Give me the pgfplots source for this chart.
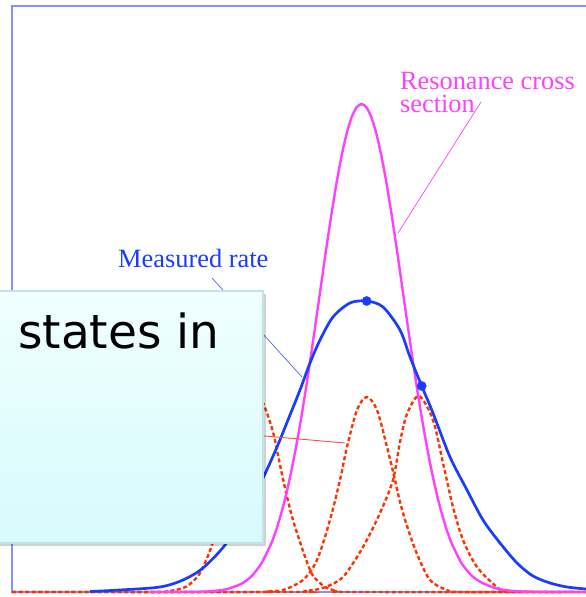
\documentclass[border=0pt]{standalone}
\usepackage{pgfplots}
\pgfplotsset{compat=1.18}
\usepackage{fontspec}
\setmainfont{Liberation Serif}
\newfontfamily\dejavu{DejaVu Sans}
\usetikzlibrary{calc}
\definecolor{cblue}{RGB}{25,60,255}
\definecolor{cmag}{RGB}{255,64,255}
\definecolor{cred}{RGB}{255,50,0}
\definecolor{cframe}{RGB}{130,145,255}
\definecolor{clead}{RGB}{80,100,255}
\definecolor{credlead}{RGB}{255,80,60}
\definecolor{boxtop}{RGB}{240,255,255}
\definecolor{boxbot}{RGB}{214,250,252}
\definecolor{boxedge}{RGB}{190,228,230}
\begin{document}
\begin{tikzpicture}
\begin{axis}[
  at={(0,0)}, anchor=south west,
  scale only axis, width=586pt, height=597pt,
  xmin=0, xmax=586, ymin=-5, ymax=592,
  hide axis, clip=false,
]
% frame
\draw[cframe, line width=1.3pt] (axis cs:600,0) -- (axis cs:12,0) -- (axis cs:12,586) -- (axis cs:600,586);
% red dashed component peaks
\addplot[cred, line width=2.4pt, dash pattern=on 4pt off 2.6pt, smooth, tension=0.5] coordinates {
 (12,0) (150,0) (167,0.5) (183,4) (190,8) (200,19) (212,47) (225,95) (240,161) (250,190) (256,195) (263,189) (273,160) (283,113) (293,72) (310,22) (320,9) (327,4) (337,1) (350,0) (586,0)};
\addplot[cred, line width=2.4pt, dash pattern=on 4pt off 2.6pt, smooth, tension=0.5] coordinates {
 (12,0) (250,0) (267,0.5) (283,2) (303,12) (317,32) (330,72) (340,112) (347,145) (357,182) (366.7,195) (377,182) (387,145) (395,112) (400,90) (407,66) (417,38) (430,12) (447,2) (463,0) (586,0)};
\addplot[cred, line width=2.4pt, dash pattern=on 4pt off 2.6pt, smooth, tension=0.5] coordinates {
 (12,0) (290,0) (305,1) (323,4) (343,15) (363,45) (380,79) (393,112) (400,150) (407,178) (419,196) (433,172) (443,129) (453,85) (463,52) (477,25) (497,5) (510,0.5) (586,0)};
% resonance cross section
\addplot[cmag, line width=2.4pt, smooth, tension=0.4] coordinates {
 (150,0) (195,0.2) (211.5,0.8) (226.5,2.8) (241.5,8.2) (251.5,15.8) (261.5,28.7) (271.5,49.1) (276.5,62.9) (281.5,79.5) (286.5,99) (291.5,121.7) (296.5,147.4) (301.5,175.9) (306.5,207) (311.5,240.3) (316.5,274.9) (321.5,310) (326.5,344.9) (331.5,378) (336.5,408.9) (341.5,435.7) (346.5,457.8) (351.5,474.4) (356.5,484.6) (361.5,488) (366.5,484.6) (371.5,474.4) (376.5,457.8) (381.5,435.7) (386.5,408.9) (391.5,378) (396.5,344.9) (401.5,310) (406.5,274.9) (411.5,240.3) (416.5,207) (421.5,175.9) (426.5,147.4) (431.5,121.7) (436.5,99) (441.5,79.5) (446.5,62.9) (451.5,49.1) (461.5,28.7) (471.5,16.5) (481.5,9.5) (496.5,3.5) (511.5,1.2) (530,0.3) (586,0)};
% measured rate
\addplot[cblue, line width=2.7pt, smooth, tension=0.5] coordinates {
 (90,0.5) (120,2) (160,5) (183,12) (203,24) (225,47) (245,79) (263,114) (277,145) (290,177) (300,202) (310,229) (320,252) (333,275) (350,289) (366.7,291) (383,285) (400,262) (410,235) (421.7,206) (433,179) (450,135) (467,102) (483,72) (500,49) (517,29) (533,16) (550,9) (567,5) (586,3)};
\addplot[cblue, only marks, mark=*, mark size=4.6pt] coordinates {(366.7,291) (421.7,206)};
% leader lines
\draw[cmag, line width=0.7pt] (axis cs:481,490) -- (axis cs:398,359);
\draw[clead, line width=0.7pt] (axis cs:212,314) -- (axis cs:302,215);
\draw[credlead, line width=0.9pt] (axis cs:230,159) -- (axis cs:345,149);
% labels
\node[anchor=base west, inner sep=0pt, text=cblue, font=\fontsize{26.4}{26.4}\selectfont] at (axis cs:118,324) {Measured rate};
\node[anchor=base west, inner sep=0pt, text=cmag, align=left, font=\fontsize{26.3}{23.4}\selectfont] at (axis cs:400,479.3) {Resonance cross\\section};
\coordinate (BL) at (axis cs:0,-5);
\coordinate (TR) at (axis cs:586,592);
\coordinate (B1) at (axis cs:-10,49);
\coordinate (B2) at (axis cs:263,301);
\coordinate (T1) at (axis cs:18,243);
\end{axis}
\fill[black, opacity=0.18] ($(B1)+(3pt,-3pt)$) rectangle ($(B2)+(3pt,-3pt)$);
\shade[top color=boxtop, bottom color=boxbot] (B1) rectangle (B2);
\draw[boxedge, line width=1.2pt] (B1) rectangle (B2);
\node[anchor=base west, inner sep=0pt, font=\dejavu\fontsize{47}{47}\selectfont] at (T1) {states in};
\pgfresetboundingbox
\useasboundingbox (BL) rectangle (TR);
\end{tikzpicture}
\end{document}
